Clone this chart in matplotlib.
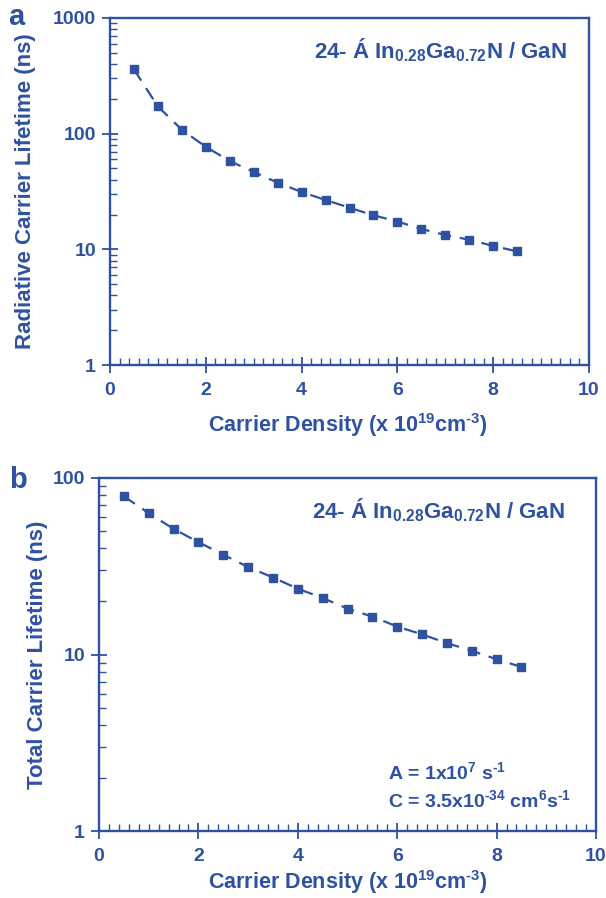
import matplotlib
matplotlib.use("Agg")
import matplotlib.pyplot as plt
from matplotlib.ticker import LogLocator, MultipleLocator, NullFormatter

FONT = "Liberation Sans"
plt.rcParams['font.family'] = [FONT, 'DejaVu Sans']
plt.rcParams['font.weight'] = 'bold'
plt.rcParams['mathtext.fontset'] = 'custom'
plt.rcParams['mathtext.rm'] = FONT + ':bold'
plt.rcParams['mathtext.bf'] = FONT + ':bold'
plt.rcParams['mathtext.default'] = 'bf'

BLUE = "#2f51a1"

density = [0.5, 1.0, 1.5, 2.0, 2.5, 3.0, 3.5, 4.0, 4.5, 5.0, 5.5, 6.0, 6.5, 7.0, 7.5, 8.0, 8.5]
radiative_lifetime = [359, 172, 108, 77, 58, 46.6, 37.7, 31.3, 26.7, 22.9, 19.7, 17.4, 15.0, 13.3, 12.1, 10.7, 9.6]
total_lifetime = [78.8, 63.2, 51.5, 43.3, 36.8, 31.3, 27.3, 23.6, 20.9, 18.2, 16.4, 14.4, 13.0, 11.6, 10.5, 9.4, 8.5]

xticks = [0, 2, 4, 6, 8, 10]
ylabel_a = "Radiative Carrier Lifetime (ns)"
ylabel_b = "Total Carrier Lifetime (ns)"
xlabel = "Carrier Density (x 10$^{19}$cm$^{\u20103}$)"
material = r"24- Á In$_{0.28}$Ga$_{0.72}$N / GaN"
paramA = "A = 1x10$^{7}$ s$^{\u20101}$"
paramC = "C = 3.5x10$^{\u201034}$ cm$^{6}$s$^{\u20101}$"

W, H = 606, 898
fig = plt.figure(figsize=(W / 100, H / 100), dpi=100)

def box(l, r, t, b):
    return [l / W, 1 - b / H, (r - l) / W, (b - t) / H]

ax_a = fig.add_axes(box(110, 589, 18, 365))
ax_b = fig.add_axes(box(99, 596, 478, 831))

def style(ax, ymin, ymax, ylabel, ylab_x):
    ax.set_yscale('log')
    ax.set_xlim(0, 10)
    ax.set_ylim(ymin, ymax)
    ax.set_xticks(xticks)
    ax.set_xticklabels([str(t) for t in xticks])
    ax.xaxis.set_minor_locator(MultipleLocator(0.2))
    decs = []
    v = ymin
    while v <= ymax * 1.001:
        decs.append(v)
        v *= 10
    ax.set_yticks(decs)
    ax.set_yticklabels([str(int(d)) for d in decs])
    ax.yaxis.set_minor_locator(LogLocator(base=10, subs=range(2, 10), numticks=10))
    ax.yaxis.set_minor_formatter(NullFormatter())
    for s in ax.spines.values():
        s.set_color(BLUE)
        s.set_linewidth(1.7)
    ax.tick_params(which='major', direction='inout', length=12, width=1.3, color=BLUE,
                   labelcolor=BLUE, labelsize=14)
    ax.tick_params(axis='x', which='major', pad=6)
    ax.tick_params(axis='y', which='major', pad=4)
    ax.tick_params(which='minor', direction='in', length=5, width=1.0, color=BLUE)
    ax.tick_params(axis='both', which='both', top=False, right=False)
    for lab in ax.get_xticklabels() + ax.get_yticklabels():
        lab.set_fontweight('bold')
    ax.set_ylabel(ylabel, color=BLUE, fontsize=16, fontweight='bold')
    ax.yaxis.set_label_coords(ylab_x, 0.5)

style(ax_a, 1, 1000, ylabel_a, (36 - 110) / 479)
style(ax_b, 1, 100, ylabel_b, (48 - 99) / 497)

for ax, data in ((ax_a, radiative_lifetime), (ax_b, total_lifetime)):
    ax.plot(density, data, color=BLUE, linestyle=(0, (6, 4)), linewidth=1.6,
            marker='s', markersize=5.5, markerfacecolor=BLUE, markeredgecolor=BLUE)

def ftext(x, y, s, **kw):
    fig.text(x / W, 1 - y / H, s, color=BLUE, fontweight='bold', **kw)

ftext(348, 432, xlabel, fontsize=15.5, ha='center', va='baseline')
ftext(348, 889, xlabel, fontsize=15.5, ha='center', va='baseline')
ftext(567, 58, material, fontsize=16, ha='right', va='baseline')
ftext(565, 518, material, fontsize=16, ha='right', va='baseline')
ftext(388, 779, paramA, fontsize=14, ha='left', va='baseline')
ftext(388, 807, paramC, fontsize=14, ha='left', va='baseline')
ftext(8, 25, "a", fontsize=21, ha='left', va='baseline')
ftext(9, 488, "b", fontsize=21, ha='left', va='baseline')

fig.savefig("out.png", dpi=100)
